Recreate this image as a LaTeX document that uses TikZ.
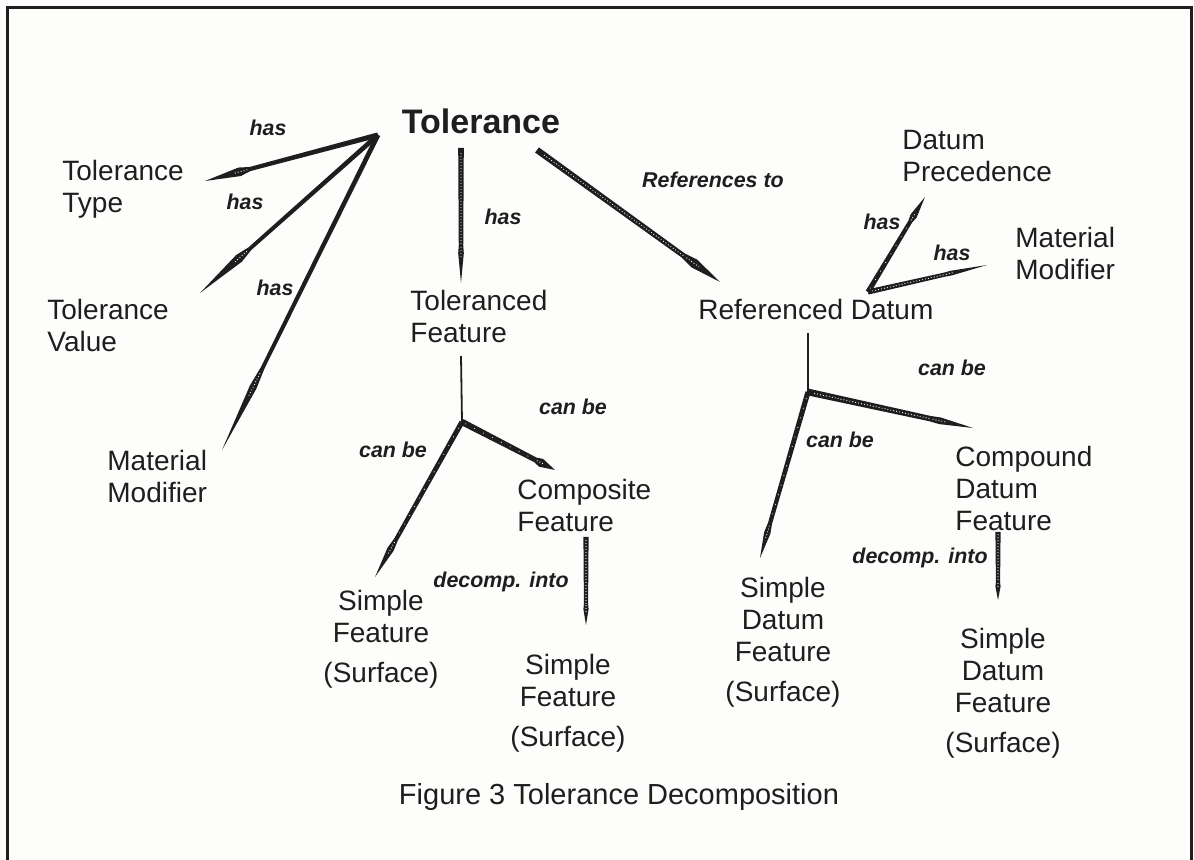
\documentclass[tikz,border=0pt]{standalone}
\usepackage{fontspec}
\setmainfont{Liberation Sans}
\usetikzlibrary{calc}
\definecolor{ink}{HTML}{1E1E1E}
\definecolor{paper}{HTML}{FDFDFB}

\tikzset{
  lbl/.style={inner sep=0pt, align=left, font=\fontsize{14}{16}\selectfont, text=ink},
  lblc/.style={lbl, align=center},
  rel/.style={inner sep=0pt, font=\fontsize{10.7}{12}\selectfont\bfseries\itshape, text=ink},
  stem/.style={draw=ink, line width=0.9pt},
  sparse/.style={white, line width=0.55pt, line cap=round, dash pattern=on 0pt off 5pt},
  dense/.style={white, line width=0.6pt, line cap=round, dash pattern=on 0pt off 1.5pt},
  nodots/.style={draw=none},
}

% tapered connector: from #1 to #2, half-width #3 at the start,
% bulge at fraction #4 with half-width #5, dot style #6 along the body
\newcommand{\conn}[6]{%
  \coordinate (cA) at (#1);
  \coordinate (cB) at (#2);
  \coordinate (cK) at ($(cA)!#4!(cB)$);
  \coordinate (cJ) at ($(cA)!#4-0.06!(cB)$);
  \fill[ink] ($(cA)!#3!90:(cB)$) -- ($(cJ)!#3*0.8!90:(cB)$) -- ($(cK)!#5!90:(cB)$)
    -- (cB) -- ($(cK)!#5!-90:(cB)$) -- ($(cJ)!#3*0.8!-90:(cB)$) -- ($(cA)!#3!-90:(cB)$) -- cycle;
  \draw[#6] ($(cA)!0.04!(cB)$) -- (cJ);
  \draw[dense] ($(cJ)!0.3!(cK)$) -- ($(cA)!#4+0.03!(cB)$);
}

\begin{document}
\begin{tikzpicture}[x=0.5pt, y=-0.5pt]
  \fill[paper] (0,0) rectangle (1194,860);
  \useasboundingbox (0,0) rectangle (1194,860);

  % frame, open at the bottom
  \draw[ink, line width=1.5pt] (7,860) -- (7,8) -- (1191,8) -- (1191,860);

  % entities
  \node[inner sep=0pt, font=\fontsize{17}{20}\selectfont\bfseries, text=ink] (tol) at (481,121) {Tolerance};
  \node[lbl, anchor=north west] (ttype) at (62,160) {Tolerance\\Type};
  \node[lbl, anchor=north west] (tval) at (47,299) {Tolerance\\Value};
  \node[lbl, anchor=north west] (tmat) at (107,450) {Material\\Modifier};
  \node[lbl, anchor=north west] (tfeat) at (410,290) {Toleranced\\Feature};
  \node[lbl, anchor=north west] (rdat) at (698,299) {Referenced Datum};
  \node[lbl, anchor=north west] (dprec) at (902,130) {Datum\\Precedence};
  \node[lbl, anchor=north west] (dmat) at (1015,227) {Material\\Modifier};
  \node[lbl, anchor=north west] (comp) at (517,479) {Composite\\Feature};
  \node[lbl, anchor=north west] (cdat) at (955,446) {Compound\\Datum\\Feature};
  \node[lblc, anchor=north] (sf1) at (381,590) {Simple\\Feature\\[4pt](Surface)};
  \node[lblc, anchor=north] (sf2) at (568,654) {Simple\\Feature\\[4pt](Surface)};
  \node[lblc, anchor=north] (sd1) at (783,577) {Simple\\Datum\\Feature\\[4pt](Surface)};
  \node[lblc, anchor=north] (sd2) at (1003,628) {Simple\\Datum\\Feature\\[4pt](Surface)};

  % connector ends and branch points
  \coordinate (apex) at (378,135);
  \coordinate (ttypeEnd) at (205,181);
  \coordinate (tvalEnd) at (200,293);
  \coordinate (tmatEnd) at (222,450);
  \coordinate (tolBot) at (461,148);
  \coordinate (tfeatEnd) at (461,283);
  \coordinate (tolRight) at (537,150);
  \coordinate (rdatEnd) at (720,282);
  \coordinate (rdatHub) at (868,292);
  \coordinate (dprecEnd) at (925,197);
  \coordinate (dmatEnd) at (987,265);
  \coordinate (tfeatTop) at (461,356);
  \coordinate (tfeatFork) at (462,422);
  \coordinate (sf1End) at (375,577);
  \coordinate (compEnd) at (555,470);
  \coordinate (compBot) at (586,537);
  \coordinate (sf2End) at (586,625);
  \coordinate (rdatTop) at (808,333);
  \coordinate (rdatFork) at (808,392);
  \coordinate (sd1End) at (760,558);
  \coordinate (cdatEnd) at (973,428);
  \coordinate (cdatBot) at (998,532);
  \coordinate (sd2End) at (998,600);

  % connectors
  \conn{apex}{ttypeEnd}{1.3pt}{0.8}{2.2pt}{nodots}
  \conn{apex}{tvalEnd}{1.2pt}{0.78}{2.2pt}{nodots}
  \conn{apex}{tmatEnd}{1.2pt}{0.8}{1.8pt}{nodots}
  \conn{tolBot}{tfeatEnd}{1.4pt}{0.78}{1.4pt}{dense}
  \conn{tolRight}{rdatEnd}{1.6pt}{0.86}{2.4pt}{dense}
  \conn{rdatHub}{dprecEnd}{1.3pt}{0.8}{1.7pt}{sparse}
  \conn{rdatHub}{dmatEnd}{1.3pt}{0.7}{1.2pt}{dense}
  \draw[stem] (tfeatTop) -- (tfeatFork);
  \conn{tfeatFork}{sf1End}{1.3pt}{0.82}{1.7pt}{sparse}
  \conn{tfeatFork}{compEnd}{1.6pt}{0.85}{2.2pt}{sparse}
  \conn{compBot}{sf2End}{1.3pt}{0.82}{1.3pt}{dense}
  \draw[stem] (rdatTop) -- (rdatFork);
  \conn{rdatFork}{sd1End}{1.3pt}{0.85}{1.6pt}{sparse}
  \conn{rdatFork}{cdatEnd}{1.7pt}{0.8}{1.7pt}{dense}
  \conn{cdatBot}{sd2End}{1.3pt}{0.8}{1.3pt}{dense}

  % relation labels
  \node[rel] (r1) at (268,128) {has};
  \node[rel] (r2) at (245,202) {has};
  \node[rel] (r3) at (275,288) {has};
  \node[rel] (r4) at (503,217) {has};
  \node[rel] (r5) at (713,180) {References to};
  \node[rel] (r6) at (882,222) {has};
  \node[rel] (r7) at (952,253) {has};
  \node[rel] (r8) at (952,368) {can be};
  \node[rel] (r9) at (573,407) {can be};
  \node[rel] (r10) at (393,450) {can be};
  \node[rel] (r11) at (840,440) {can be};
  \node[rel] (r12) at (501,582) {decomp. into};
  \node[rel] (r13) at (920,558) {decomp. into};

  % caption
  \node[inner sep=0pt, font=\fontsize{14.5}{16}\selectfont, text=ink] (cap) at (619,797) {Figure 3 Tolerance Decomposition};
\end{tikzpicture}
\end{document}
